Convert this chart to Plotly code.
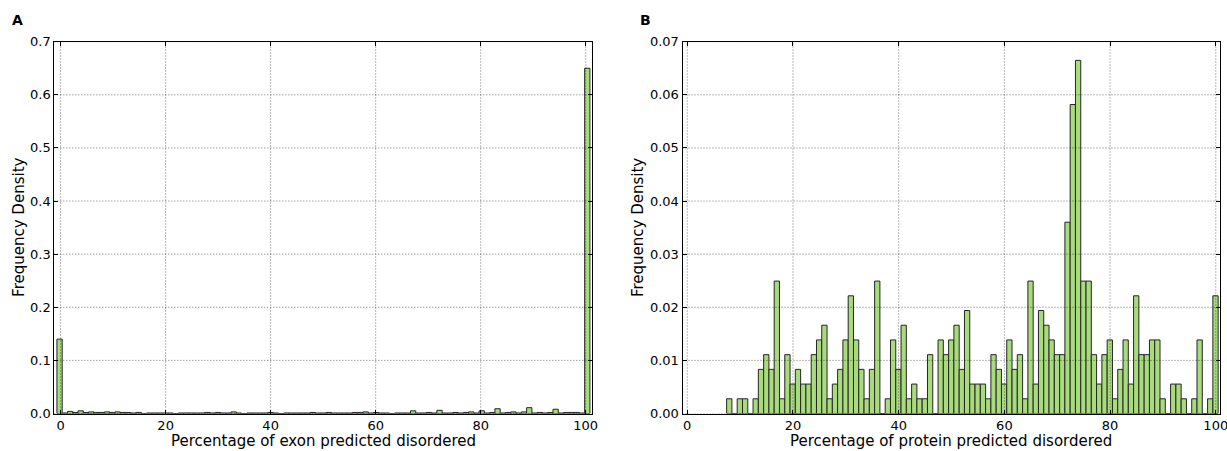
import numpy as np
import plotly.graph_objects as go

# ---------------- data ----------------
# Panel A: exon-level histogram (density per bin), 101 bins of ~1 unit
exon_bin_start = -0.7
exon_bin_width = 1.005
exon_density = [
    0.140, 0.001, 0.004, 0.002, 0.005, 0.002, 0.003, 0.002, 0.002, 0.003,
    0.002, 0.003, 0.002, 0.002, 0.001, 0.002, 0.000, 0.001, 0.001, 0.001,
    0.001, 0.001, 0.000, 0.001, 0.001, 0.001, 0.001, 0.001, 0.002, 0.001,
    0.002, 0.001, 0.001, 0.003, 0.001, 0.000, 0.001, 0.001, 0.001, 0.001,
    0.002, 0.001, 0.000, 0.001, 0.001, 0.001, 0.001, 0.001, 0.002, 0.001,
    0.001, 0.002, 0.001, 0.001, 0.001, 0.001, 0.002, 0.002, 0.003, 0.001,
    0.002, 0.001, 0.001, 0.000, 0.001, 0.001, 0.001, 0.005, 0.001, 0.001,
    0.002, 0.001, 0.006, 0.001, 0.001, 0.002, 0.001, 0.002, 0.003, 0.001,
    0.005, 0.001, 0.002, 0.009, 0.001, 0.002, 0.003, 0.001, 0.003, 0.011,
    0.001, 0.002, 0.001, 0.002, 0.008, 0.001, 0.002, 0.002, 0.002, 0.001,
    0.650,
]

# Panel B: protein-level histogram, counts per 1-unit bin (bins start at 7.45)
protein_bin_start = 7.45
protein_bin_width = 1.0
protein_counts = [
    1, 0, 1, 1, 0, 1, 3, 4, 3, 9,          # 7-16
    1, 4, 2, 3, 2, 2, 4, 5, 6, 1,          # 17-26
    2, 3, 5, 8, 5, 3, 1, 3, 9, 0,          # 27-36
    1, 5, 3, 6, 1, 2, 1, 1, 4, 0,          # 37-46
    5, 4, 5, 6, 3, 7, 2, 2, 2, 1,          # 47-56
    4, 3, 2, 5, 3, 4, 1, 9, 2, 7,          # 57-66
    6, 5, 4, 4, 13, 21, 24, 9, 9, 4,       # 67-76
    2, 4, 5, 1, 3, 5, 2, 8, 4, 4,          # 77-86
    5, 5, 1, 0, 2, 2, 1, 0, 1, 5,          # 87-96
    0, 1, 8,                               # 97-99
]

x_ticks = [0, 20, 40, 60, 80, 100]
ya_ticks = [0.0, 0.1, 0.2, 0.3, 0.4, 0.5, 0.6, 0.7]
yb_ticks = [0.00, 0.01, 0.02, 0.03, 0.04, 0.05, 0.06, 0.07]

panel_labels = ["A", "B"]
x_titles = ["Percentage of exon predicted disordered",
            "Percentage of protein predicted disordered"]
y_title = "Frequency Density"

# ---------------- derived ----------------
exon_centers = exon_bin_start + exon_bin_width * (np.arange(len(exon_density)) + 0.5)
pc = np.array(protein_counts, dtype=float)
protein_density = pc / pc.sum() / protein_bin_width
protein_centers = protein_bin_start + protein_bin_width * (np.arange(len(pc)) + 0.5)

W, H = 1227, 451
FONT = "DejaVu Sans"
BAR_FILL = "#a8db7c"
BAR_EDGE = "#262626"

def px_x(p):
    return p / W

def px_y(p):
    return 1 - p / H

ydom = [px_y(413.5), px_y(41.7)]
xdom_a = [px_x(54.3), px_x(592.0)]
xdom_b = [px_x(682.5), px_x(1220.0)]

fig = go.Figure()
fig.add_trace(go.Bar(
    x=exon_centers, y=exon_density, width=exon_bin_width,
    marker=dict(color=BAR_FILL, line=dict(color=BAR_EDGE, width=1)),
    xaxis="x", yaxis="y", showlegend=False, hoverinfo="x+y",
))
fig.add_trace(go.Bar(
    x=protein_centers, y=protein_density, width=protein_bin_width,
    marker=dict(color=BAR_FILL, line=dict(color=BAR_EDGE, width=1)),
    xaxis="x2", yaxis="y2", showlegend=False, hoverinfo="x+y",
))

axis_common = dict(
    showline=True, linecolor="black", linewidth=1, mirror="ticks",
    ticks="inside", ticklen=4, tickwidth=1, tickcolor="black",
    showgrid=False, zeroline=False, automargin=False,
    ticklabeloverflow="allow",
    tickfont=dict(family=FONT, size=13, color="black"),
)

fig.update_layout(
    width=W, height=H,
    margin=dict(l=0, r=0, t=0, b=0),
    paper_bgcolor="white", plot_bgcolor="white",
    font=dict(family=FONT, color="black"),
    xaxis=dict(domain=xdom_a, anchor="y", range=[-1.2, 101.2],
               tickvals=x_ticks, ticktext=[str(t) for t in x_ticks], **axis_common),
    yaxis=dict(domain=ydom, anchor="x", range=[0, 0.7],
               tickvals=ya_ticks, ticktext=[f"{t:.1f}" for t in ya_ticks], **axis_common),
    xaxis2=dict(domain=xdom_b, anchor="y2", range=[-0.9, 100.8],
                tickvals=x_ticks, ticktext=[str(t) for t in x_ticks], **axis_common),
    yaxis2=dict(domain=ydom, anchor="x2", range=[0, 0.07],
                tickvals=yb_ticks, ticktext=[f"{t:.2f}" for t in yb_ticks], **axis_common),
)

# dotted grid drawn above bars (as in the reference)
grid_line = dict(color="rgba(0,0,0,0.55)", width=1, dash="1px,2px")
shapes = []
for xa, ya, yt in (("x", "y", ya_ticks), ("x2", "y2", yb_ticks)):
    for t in x_ticks:
        shapes.append(dict(type="line", xref=xa, yref=f"{ya} domain", x0=t, x1=t,
                           y0=0, y1=1, line=grid_line, layer="above"))
    for t in yt:
        shapes.append(dict(type="line", xref=f"{xa} domain", yref=ya, x0=0, x1=1,
                           y0=t, y1=t, line=grid_line, layer="above"))
fig.update_layout(shapes=shapes)

annotations = []
# panel letters
for lab, xp in zip(panel_labels, (17.5, 645.0)):
    annotations.append(dict(text=f"<b>{lab}</b>", x=px_x(xp), y=px_y(20.5), xref="paper", yref="paper",
                            showarrow=False, xanchor="center", yanchor="middle",
                            font=dict(family=FONT, size=14, color="black")))
# x titles
for t, dom in zip(x_titles, (xdom_a, xdom_b)):
    annotations.append(dict(text=t, x=(dom[0] + dom[1]) / 2, y=px_y(440.5), xref="paper", yref="paper",
                            showarrow=False, xanchor="center", yanchor="middle",
                            font=dict(family=FONT, size=15, color="black")))
# y titles
for xp in (18.3, 637.5):
    annotations.append(dict(text=y_title, x=px_x(xp), y=(ydom[0] + ydom[1]) / 2, xref="paper", yref="paper",
                            showarrow=False, xanchor="center", yanchor="middle", textangle=-90,
                            font=dict(family=FONT, size=15, color="black")))
fig.update_layout(annotations=annotations)

fig.write_html(
    "out.html",
    config={"displayModeBar": False, "responsive": False},
    post_script="document.body.style.margin='0';document.body.style.overflow='hidden';",
)
